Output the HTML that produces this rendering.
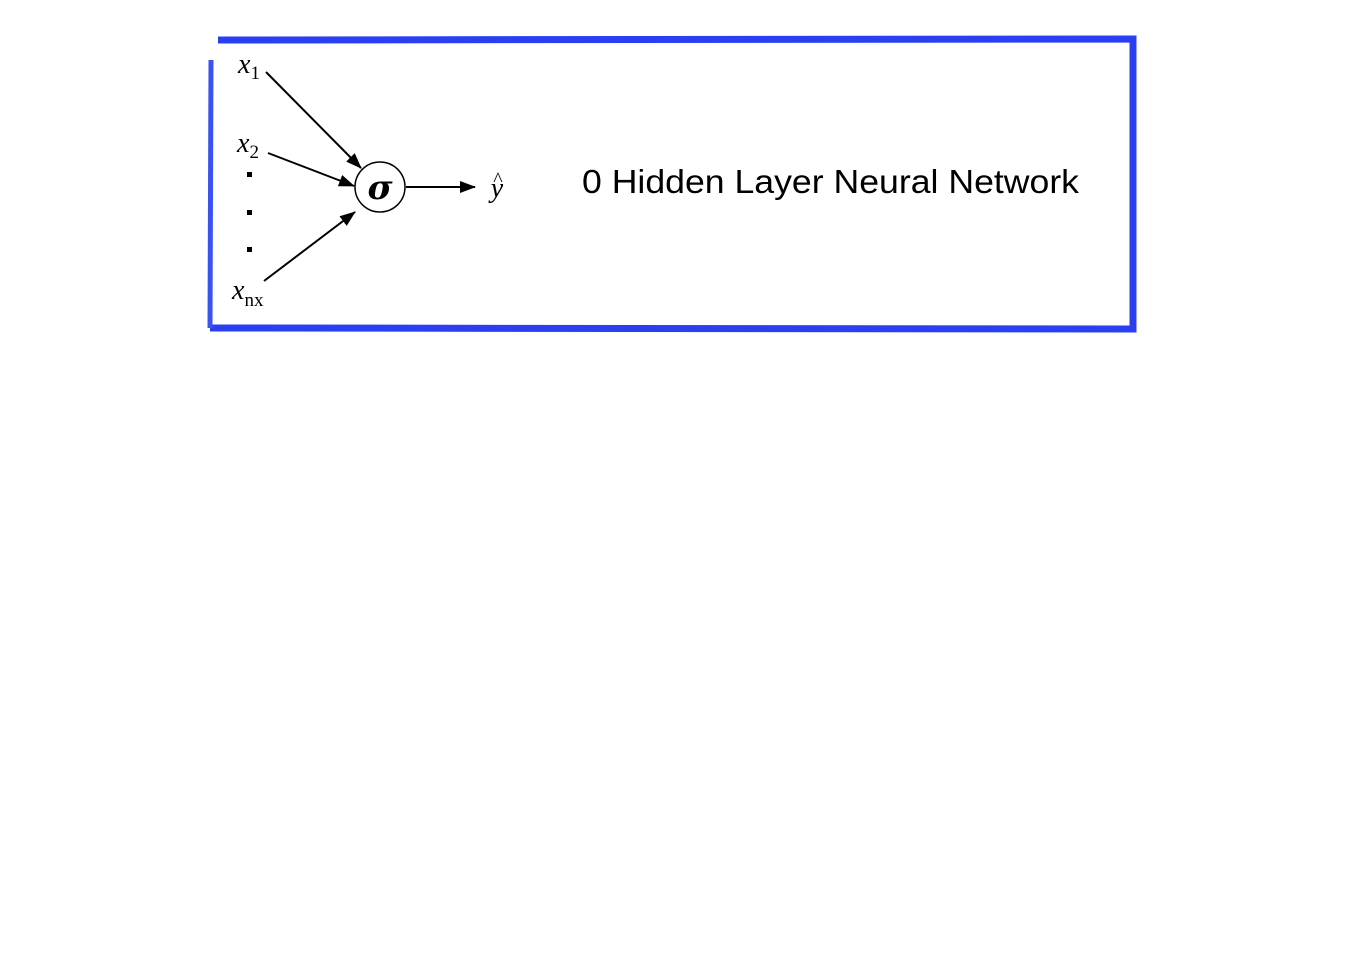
<!DOCTYPE html>
<html><head><meta charset="utf-8"><style>
html,body{margin:0;padding:0;background:#fff;}
svg{display:block;}
</style></head><body>
<svg width="1349" height="970" viewBox="0 0 1349 970">
<defs>
<marker id="ah" markerWidth="16" markerHeight="12" refX="15" refY="6" orient="auto" markerUnits="userSpaceOnUse">
<path d="M0,0 L16,6 L0,12 z" fill="#000"/>
</marker>
</defs>
<g fill="none" stroke="#2a3ff2">
<path d="M218,40 L1133,39 L1133,329 L210,328" stroke-width="7"/>
<path d="M210,328 L211,60" stroke-width="5" stroke="#3a52f0"/>
</g>
<text x="238" y="73" font-family="Liberation Serif, serif" font-style="italic" font-size="28">x<tspan font-style="normal" font-size="19" dy="6">1</tspan></text>
<text x="237" y="152" font-family="Liberation Serif, serif" font-style="italic" font-size="28">x<tspan font-style="normal" font-size="19" dy="6">2</tspan></text>
<text x="232" y="299" font-family="Liberation Serif, serif" font-style="italic" font-size="28">x<tspan font-style="normal" font-size="19" dy="7">nx</tspan></text>
<g fill="#000">
<rect x="247" y="172" width="5" height="5"/>
<rect x="247" y="210" width="5" height="5"/>
<rect x="247" y="247" width="5" height="5"/>
</g>
<g stroke="#000" stroke-width="2" fill="none">
<line x1="266" y1="72" x2="361" y2="168" marker-end="url(#ah)"/>
<line x1="268" y1="153" x2="354" y2="186" marker-end="url(#ah)"/>
<line x1="264" y1="281" x2="355" y2="212" marker-end="url(#ah)"/>
<line x1="406" y1="187" x2="475" y2="187" marker-end="url(#ah)"/>
</g>
<circle cx="380" cy="187" r="25" fill="#fff" stroke="#000" stroke-width="1.5"/>
<text x="380" y="199" text-anchor="middle" font-family="DejaVu Serif, serif" font-style="italic" font-weight="bold" font-size="34">σ</text>
<text x="497" y="197" text-anchor="middle" font-family="Liberation Serif, serif" font-style="italic" font-size="28">y</text>
<text x="498" y="186" text-anchor="middle" font-family="Liberation Serif, serif" font-size="20">^</text>
<text x="582" y="193" font-family="Liberation Sans, sans-serif" font-size="33" textLength="497" lengthAdjust="spacingAndGlyphs">0 Hidden Layer Neural Network</text>
</svg>
</body></html>
